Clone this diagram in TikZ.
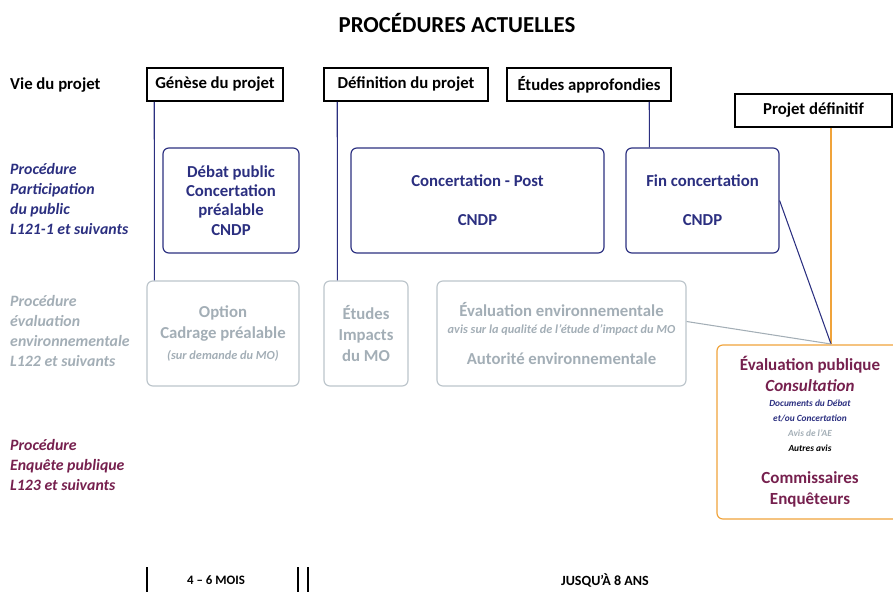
\documentclass[tikz,border=0pt]{standalone}
\usepackage{fontspec}
\setmainfont{Carlito}
\usetikzlibrary{calc}

\definecolor{projbleu}{HTML}{2B2F80}
\definecolor{envgris}{HTML}{A3AEB6}
\definecolor{cadregris}{HTML}{BCC5CB}
\definecolor{enqorange}{HTML}{F0A33A}
\definecolor{enqlie}{HTML}{76204E}

\def\u{0.03cm}

\tikzset{
  jalon/.style={draw=black, line width=1.3pt, minimum height=33*\u, inner sep=0pt,
    font=\bfseries\fontsize{14.3}{16}\selectfont},
  concert/.style={draw=projbleu, line width=1pt, rounded corners=5pt, text=projbleu,
    align=center, inner sep=0pt, minimum height=105*\u,
    font=\bfseries\fontsize{14.3}{16.5}\selectfont},
  evalbox/.style={draw=cadregris, line width=1pt, rounded corners=5pt, text=envgris,
    align=center, inner sep=0pt, minimum height=105*\u,
    font=\bfseries\fontsize{14.3}{18}\selectfont},
  enqbox/.style={draw=enqorange, line width=1pt, rounded corners=5pt, text=enqlie,
    align=center, inner sep=0pt, font=\bfseries\fontsize{14.5}{18}\selectfont},
  rowlabel/.style={anchor=north west, align=left, inner sep=0pt,
    font=\bfseries\itshape\fontsize{13.5}{17}\selectfont},
  lienbleu/.style={draw=projbleu, line width=0.9pt},
  liengris/.style={draw=envgris, line width=0.9pt},
  lienorange/.style={draw=enqorange, line width=1.1pt},
}

\begin{document}
\begin{tikzpicture}[x=0.03cm, y=-0.03cm]

    \useasboundingbox (0,0) rectangle (893,592);

    % titre
    \node[font=\bfseries\fontsize{19.5}{22}\selectfont] (titre) at (457,23) {PROCÉDURES ACTUELLES};

    % colonne de gauche
    \node[anchor=west, inner sep=0pt, font=\bfseries\fontsize{14.3}{16}\selectfont] (vie) at (10,85) {Vie du projet};
    \node[rowlabel, text=projbleu] (partic) at (10,163) {Procédure\\Participation\\du public\\L121-1 et suivants};
    \node[rowlabel, text=envgris] (evalproc) at (10,295) {Procédure\\évaluation\\environnementale\\L122 et suivants};
    \node[rowlabel, text=enqlie] (enqproc) at (10,439) {Procédure\\Enquête publique\\L123 et suivants};

    % vie du projet
    \node[jalon, minimum width=136*\u] (genese) at (215,84.5) {Génèse du projet};
    \node[jalon, minimum width=164*\u] (definition) at (406,84.5) {Définition du projet};
    \node[jalon, minimum width=164*\u] (etudes) at (589,84.5) {Études approfondies};
    \node[jalon, minimum width=157*\u] (projdef) at (813.5,110.5) {Projet définitif};

    % participation du public
    \node[concert, minimum width=136*\u] (debat) at (231,200.5) {Débat public\\Concertation\\préalable\\CNDP};
    \node[concert, minimum width=253*\u] (post) at (477.5,200.5) {Concertation - Post\\[17pt]CNDP};
    \node[concert, minimum width=153*\u] (fin) at (702.5,200.5) {Fin concertation\\[17pt]CNDP};

    % evaluation environnementale
    \node[evalbox, minimum width=152*\u] (option) at (223,333.5)
        {Option\\Cadrage préalable\\{\fontsize{10.5}{11}\selectfont\itshape (sur demande du MO)}};
    \node[evalbox, minimum width=84*\u] (impacts) at (366,333.5) {Études\\Impacts\\du MO};
    \node[evalbox, minimum width=249*\u] (evalenv) at (561.5,333.5)
        {Évaluation environnementale\\[-3.5pt]{\fontsize{10.5}{11}\selectfont\itshape avis sur la qualité de l'étude d'impact du MO}\\[8.5pt]Autorité environnementale};

    % enquete publique
    \node[enqbox, minimum width=186*\u, minimum height=174*\u] (publique) at (810,432)
        {Évaluation publique\\
         {\itshape Consultation}\\[-5.2pt]
         {\fontsize{8}{9}\selectfont\itshape\color{projbleu}Documents du Débat}\\[-5.2pt]
         {\fontsize{8}{9}\selectfont\itshape\color{projbleu}et/ou Concertation}\\[-5.2pt]
         {\fontsize{8}{9}\selectfont\itshape\color{envgris}Avis de l'AE}\\[-5.2pt]
         {\fontsize{8}{9}\selectfont\itshape\color{black}Autres avis}\\[9.3pt]
         Commissaires\\Enquêteurs};

    % liens
    \coordinate (rencontre) at (831,344);
    \draw[lienbleu] ($(genese.south west)+(8,0)$) -- ($(option.north west)+(8,0)$);
    \draw[lienbleu] ($(definition.south west)+(14,0)$) -- ($(impacts.north west)+(14,0)$);
    \draw[lienbleu] ($(etudes.south west)+(143,0)$) -- ($(fin.north west)+(24,0)$);
    \draw[lienorange] (projdef.south -| rencontre) -- (rencontre);
    \draw[lienbleu] (fin.east) -- (rencontre);
    \draw[liengris] ($(evalenv.east)+(0,-12)$) -- (rencontre);

    % durees
    \draw[line width=1.2pt] (147,567) -- (147,592);
    \draw[line width=1.2pt] (298,567) -- (298,592);
    \draw[line width=1.2pt] (308,567) -- (308,592);
    \node[font=\bfseries\fontsize{11}{13}\selectfont] (mois) at (216,580) {4 – 6 MOIS};
    \node[font=\bfseries\fontsize{12}{14}\selectfont] (ans) at (605,580) {JUSQU'À 8 ANS};

\end{tikzpicture}
\end{document}
